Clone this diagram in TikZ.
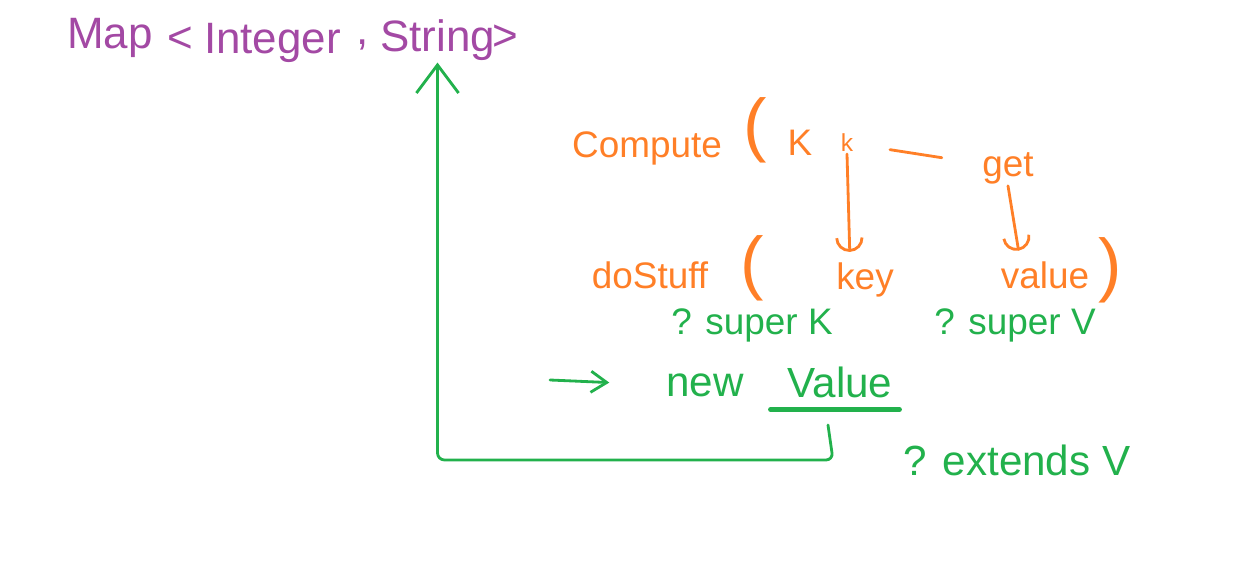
\documentclass[tikz,border=0pt]{standalone}
\usepackage{fontspec}
\setmainfont{Liberation Sans}
\usetikzlibrary{positioning,calc,arrows.meta}
\definecolor{mappurple}{HTML}{A349A4}
\definecolor{fnorange}{HTML}{FF7F27}
\definecolor{wildgreen}{HTML}{22B14C}

\begin{document}
\begin{tikzpicture}
	\useasboundingbox (0,0) rectangle (24.7,-11.5);
	\begin{scope}
		\tikzstyle{every node}=[align=center, inner sep=1pt]
		\tikzstyle{typ}=[text=mappurple, font=\fontsize{25}{29}\selectfont]
		\tikzstyle{fn}=[text=fnorange, font=\fontsize{21}{25}\selectfont]
		\tikzstyle{paren}=[text=fnorange, font=\fontsize{40}{46}\selectfont]
		\tikzstyle{wild}=[text=wildgreen, font=\fontsize{21}{25}\selectfont]
		\tikzstyle{wildbig}=[text=wildgreen, font=\fontsize{24}{28}\selectfont]
		\tikzstyle{orangeline}=[draw=fnorange, line width=1.6pt, line cap=round]
		\tikzstyle{greenline}=[draw=wildgreen, line width=1.6pt, line cap=round, line join=round]

		% the map type
		\node[typ] (map) at (2.2, -0.75) {Map};
		\node[typ] (lt) at (3.6, -0.8) {<};
		\node[typ] (integer) at (5.45, -0.85) {Integer};
		\node[typ] (comma) at (7.25, -0.9) {,};
		\node[typ] (string) at (8.75, -0.8) {String};
		\node[typ] (gt) at (10.1, -0.75) {>};

		% compute call
		\node[fn] (compute) at (12.94, -2.96) {Compute};
		\node[paren] (lpar1) at (15.1, -2.6) {(};
		\node[fn] (bigk) at (16.0, -2.86) {K};
		\node[fn, font=\fontsize{14}{16}\selectfont] (smallk) at (16.94, -2.86) {k};
		\node[fn] (get) at (20.16, -3.36) {get};

		% doStuff call
		\node[fn] (dostuff) at (13.0, -5.5) {doStuff};
		\node[paren] (lpar2) at (15.04, -5.36) {(};
		\node[fn] (key) at (17.3, -5.6) {key};
		\node[fn] (value) at (20.9, -5.5) {value};
		\node[paren] (rpar) at (22.2, -5.4) {)};

		% wildcards
		\node[wild] (superk) at (15.04, -6.5) {? super K};
		\node[wild] (superv) at (20.3, -6.5) {? super V};
		\node[wildbig] (new) at (14.1, -7.7) {new};
		\node[wildbig] (valueg) at (16.8, -7.64) {Value};
		\node[wildbig] (extends) at (20.34, -9.2) {? extends V};
		\coordinate (fromleft) at (11.0, -7.6);
		\coordinate (underhook) at (16.56, -8.5);

		\draw [orangeline, shorten <=0.87cm, shorten >=1.34cm] (smallk.center) to (get.center);
		\draw [orangeline, -{Arc Barb[length=8pt, width=16pt]}, shorten >=5pt] (smallk.south) to ([xshift=-0.3cm]key.north);
		\draw [orangeline, -{Arc Barb[length=8pt, width=16pt]}, shorten >=5pt] (get.south) to ([xshift=-0.5cm]value.north);

		\draw [greenline, -{Straight Barb[length=9pt, width=12pt]}, shorten >=1.1cm] (fromleft) to (new.west);
		\draw [greenline, line width=2.8pt] ([xshift=-0.3cm, yshift=-0.2cm]valueg.south west) to ([xshift=0.1cm, yshift=-0.2cm]valueg.south east);
		\draw [greenline, rounded corners=4pt, -{Straight Barb[length=16pt, width=24pt]}] (underhook) -- ++(0.1, -0.7) -| (string.south);
	\end{scope}
\end{tikzpicture}
\end{document}
